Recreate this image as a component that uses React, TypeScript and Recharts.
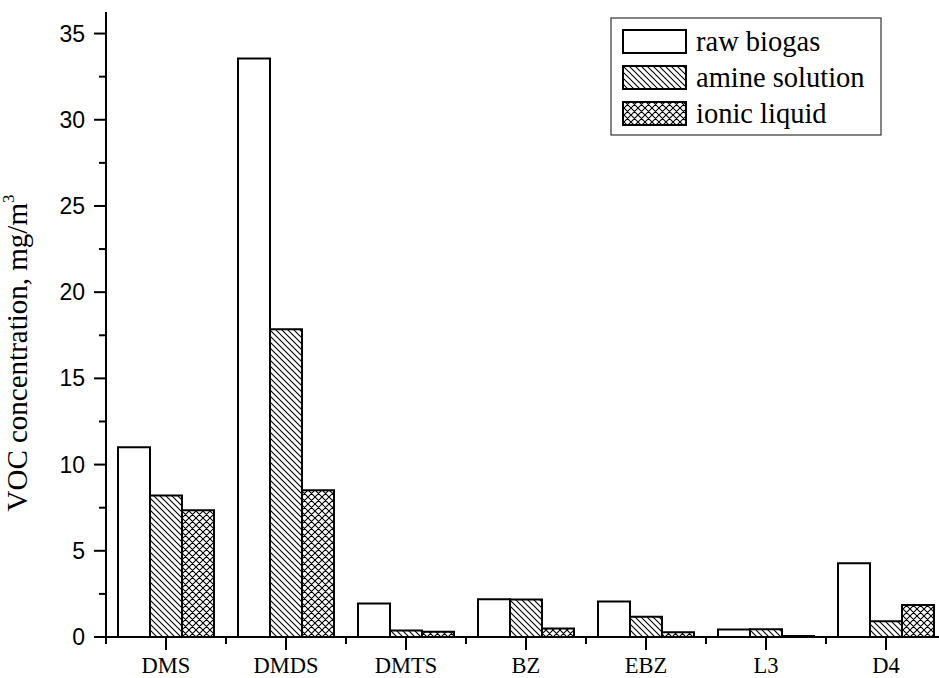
import { BarChart, Bar, XAxis, YAxis, Legend, Label } from "recharts"

const categories = ["DMS", "DMDS", "DMTS", "BZ", "EBZ", "L3", "D4"]
const rawBiogas = [11.0, 33.55, 1.95, 2.19, 2.06, 0.43, 4.28]
const amineSolution = [8.21, 17.85, 0.37, 2.17, 1.17, 0.45, 0.91]
const ionicLiquid = [7.35, 8.51, 0.3, 0.49, 0.28, 0.06, 1.86]
const yTicks = [0, 2.5, 5, 7.5, 10, 12.5, 15, 17.5, 20, 22.5, 25, 27.5, 30, 32.5, 35]

const series = [
  { key: "raw", name: "raw biogas", fill: "#ffffff" },
  { key: "amine", name: "amine solution", fill: "url(#hatchAmine)" },
  { key: "ionic", name: "ionic liquid", fill: "url(#hatchIonic)" },
]

const data = categories.map((name, i) => ({
  name,
  raw: rawBiogas[i],
  amine: amineSolution[i],
  ionic: ionicLiquid[i],
}))

const SERIF = "Liberation Serif"
const SANS = "Liberation Sans"

const YTick = ({ x, y, payload }: any) => {
  const major = payload.value % 5 === 0
  return (
    <g>
      <line x1={x - (major ? 12 : 7)} x2={x} y1={y} y2={y} stroke="#000" strokeWidth={2} />
      {major && (
        <text x={x - 21} y={y} textAnchor="end" dominantBaseline="central" fontFamily={SANS} fontSize={23} fill="#000">
          {payload.value}
        </text>
      )}
    </g>
  )
}

const XTick = ({ x, y, payload }: any) => (
  <g>
    <line x1={x} x2={x} y1={y} y2={y + 13} stroke="#000" strokeWidth={2} />
    <line x1={x - 60} x2={x - 60} y1={y} y2={y + 7} stroke="#000" strokeWidth={2} />
    <line x1={x + 60} x2={x + 60} y1={y} y2={y + 7} stroke="#000" strokeWidth={2} />
    <text x={x} y={y + 36} textAnchor="middle" fontFamily={SERIF} fontSize={22.5} fill="#000">
      {payload.value}
    </text>
  </g>
)

// legend drawn as its own small svg, placed over the upper right of the plot
const LegendBox = () => (
  <svg width={272} height={119} style={{ position: "absolute", left: 610, top: 17, display: "block" }}>
    <rect x={1} y={1} width={270} height={117} fill="#fff" stroke="#333" strokeWidth={1.2} />
    {series.map((s, i) => (
      <g key={s.key}>
        <rect x={13} y={13 + i * 36} width={63} height={23} fill={s.fill} stroke="#000" strokeWidth={2} />
        <text x={86} y={24.5 + i * 36} dominantBaseline="central" fontFamily={SERIF} fontSize={28.5} fill="#000">
          {s.name}
        </text>
      </g>
    ))}
  </svg>
)

export default function App() {
  return (
    <div style={{ position: "absolute", left: 0, top: 0, width: 939, height: 678, overflow: "hidden", background: "#fff" }}>
      <BarChart
        width={960}
        height={678}
        data={data}
        margin={{ top: 12, right: 14, bottom: 0, left: 0 }}
        barGap={0}
      >
        <defs>
          <pattern id="hatchAmine" patternUnits="userSpaceOnUse" width={6} height={6}>
            <rect width={6} height={6} fill="#fff" />
            <path d="M0,0 L6,6 M-1,5 L1,7 M5,-1 L7,1" stroke="#000" strokeWidth={1.1} />
          </pattern>
          <pattern id="hatchIonic" patternUnits="userSpaceOnUse" width={7} height={7}>
            <rect width={7} height={7} fill="#fff" />
            <path d="M0,0 L7,7 M-1,6 L1,8 M6,-1 L8,1 M0,7 L7,0 M-1,1 L1,-1 M6,8 L8,6" stroke="#000" strokeWidth={1.1} />
          </pattern>
        </defs>
        <XAxis
          dataKey="name"
          height={41}
          tickSize={0}
          tickMargin={0}
          tickLine={false}
          axisLine={{ stroke: "#000", strokeWidth: 2 }}
          tick={<XTick />}
          interval={0}
        />
        <YAxis
          width={106}
          domain={[0, 36.25]}
          ticks={yTicks}
          interval={0}
          tickSize={0}
          tickMargin={0}
          tickLine={false}
          axisLine={{ stroke: "#000", strokeWidth: 2 }}
          tick={<YTick />}
        >
          <Label
            content={() => (
              <text
                transform="translate(27, 353) rotate(-90)"
                textAnchor="middle"
                fontFamily={SERIF}
                fontSize={29}
                fill="#000"
              >
                VOC concentration, mg/m
                <tspan dy={-13} fontSize={17}>3</tspan>
              </text>
            )}
          />
        </YAxis>
        <Legend content={<LegendBox />} wrapperStyle={{ position: "absolute", left: 0, top: 0, width: 0, height: 0 }} />
        {series.map((s) => (
          <Bar
            key={s.key}
            dataKey={s.key}
            name={s.name}
            fill={s.fill}
            stroke="#000"
            strokeWidth={2}
            barSize={32}
            isAnimationActive={false}
          />
        ))}
      </BarChart>
    </div>
  )
}
